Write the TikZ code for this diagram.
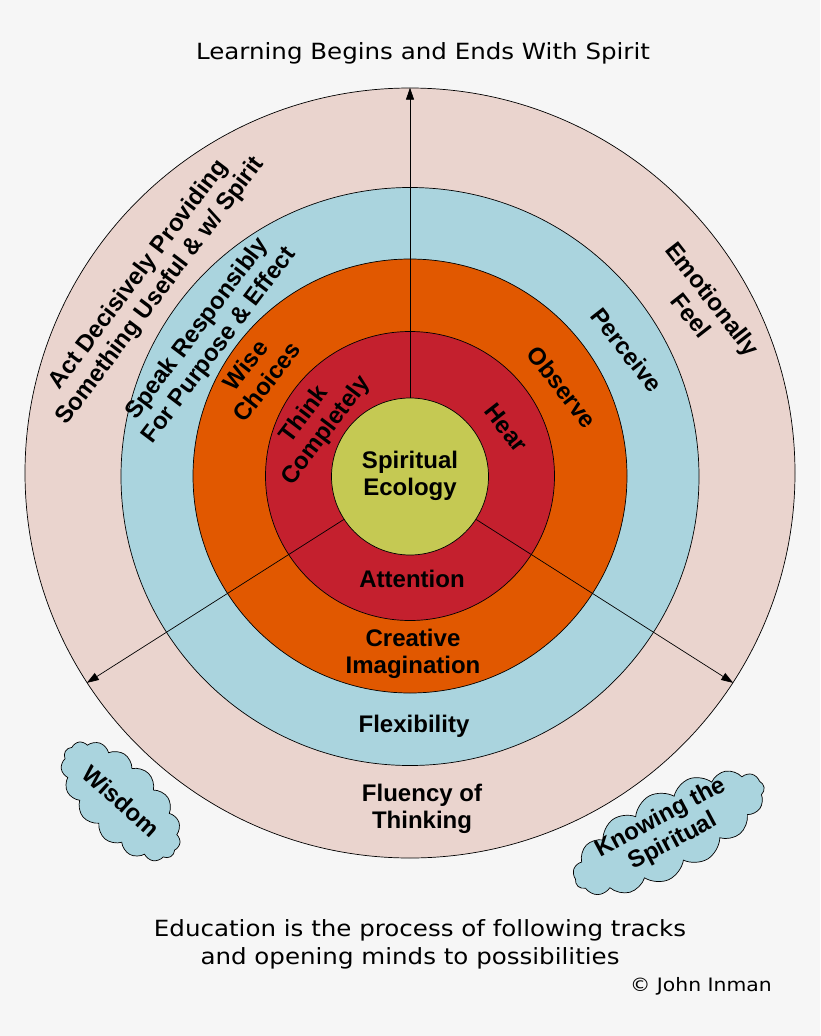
\documentclass[tikz,border=0pt]{standalone}
\usepackage{fontspec}
\usetikzlibrary{arrows.meta,shapes.symbols}
\newfontfamily\labfont{Liberation Sans}
\newfontfamily\titfont[FakeStretch=1.1]{DejaVu Sans}
\definecolor{bgC}{HTML}{F6F6F6}
\definecolor{pinkC}{HTML}{EAD4CE}
\definecolor{blueC}{HTML}{AAD4DE}
\definecolor{orangeC}{HTML}{E15800}
\definecolor{redC}{HTML}{C4202E}
\definecolor{greenC}{HTML}{C5C953}
\begin{document}
\begin{tikzpicture}[x=1pt,y=-1pt,
 ring/.style={circle,draw=black,line width=0.7pt,inner sep=0pt,minimum size=#1},
 lbl/.style={font=\labfont\bfseries\fontsize{24}{27}\selectfont,align=center,inner sep=0pt,text=black},
 arr/.style={line width=0.7pt,-{Triangle[length=12pt,width=8pt]}},
 puff/.style={cloud,cloud puffs=15,cloud puff arc=115,cloud ignores aspect,draw=black,line width=0.7pt,fill=blueC,inner sep=0pt},
 ttl/.style={font=\titfont\fontsize{22.3}{27}\selectfont,inner sep=0pt}]
\fill[bgC] (0,0) rectangle (820,1036);
\useasboundingbox (0,0) rectangle (820,1036);
% rings
\node[ring=770pt,fill=pinkC] (outer) at (410,473) {};
\node[ring=578pt,fill=blueC] (blue) at (410,476.5) {};
\node[ring=434pt,fill=orangeC] (orange) at (410,476) {};
\node[ring=289pt,fill=redC] (red) at (410,476) {};
\node[ring=157pt,fill=greenC] (green) at (410,476.5) {};
% arrows
\draw[arr] (green.north) -- (outer.north);
\draw[arr] (green.213) -- (outer.213);
\draw[arr] (green.-33) -- (outer.-33);
% centre and bottom labels
\node[lbl] (se) at (410,476) {Spiritual\\Ecology};
\node[lbl] (att) at (412,579) {Attention};
\node[lbl] (ci) at (413,654) {Creative\\Imagination};
\node[lbl] (flex) at (414,726) {Flexibility};
\node[lbl] (flu) at (422,809) {Fluency of\\Thinking};
% left labels
\node[lbl,rotate=53] (act) at (150,283) {Act Decisively Providing\\Something Useful \& w/ Spirit};
\node[lbl,rotate=53] (speak) at (208.5,337.5) {Speak Responsibly\\For Purpose \& Effect};
\node[lbl,rotate=52] (wise) at (256,373.5) {Wise\\Choices};
\node[lbl,rotate=53] (think) at (315.5,423) {Think\\Completely};
% right labels
\node[lbl,rotate=-52] (hear) at (506,428) {Hear};
\node[lbl,rotate=-52] (obs) at (562,387) {Observe};
\node[lbl,rotate=-52] (perc) at (627,350) {Perceive};
\node[lbl,rotate=-52] (emo) at (702,307) {Emotionally\\Feel};
% clouds
\node[puff,rotate=-45,minimum width=150pt,minimum height=78pt] (wis) at (121,801) {};
\node[lbl,rotate=-42] (wist) at (wis.center) {Wisdom};
\node[puff,rotate=28,minimum width=212pt,minimum height=84pt] (kts) at (669,833) {};
\node[lbl,rotate=28] (ktst) at (667,830) {Knowing the\\Spiritual};
% titles
\node[ttl] (title) at (423,53) {Learning Begins and Ends With Spirit};
\node[ttl] (ed1) at (420,930) {Education is the process of following tracks};
\node[ttl] (ed2) at (410,958) {and opening minds to possibilities};
\node[ttl,font=\titfont\fontsize{18.5}{22}\selectfont,anchor=east] (cr) at (772,986) {© John Inman};
\end{tikzpicture}
\end{document}
